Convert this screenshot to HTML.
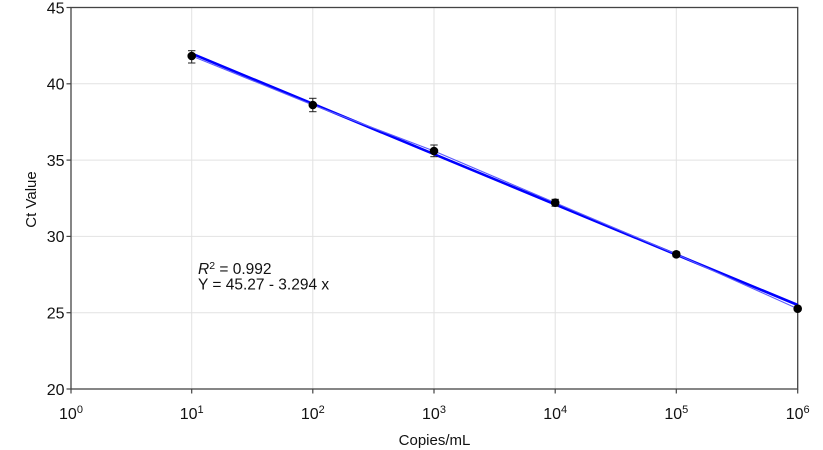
<!DOCTYPE html>
<html>
<head>
<meta charset="utf-8">
<style>
  html, body { margin: 0; padding: 0; background: #fff; }
  svg { display: block; }
  text { font-family: "Liberation Sans", Arial, sans-serif; fill: #111; }
</style>
</head>
<body>
<svg width="823" height="450" viewBox="0 0 823 450" xmlns="http://www.w3.org/2000/svg">
  <rect x="0" y="0" width="823" height="450" fill="#fff"/>
  <!-- grid -->
  <g stroke="#e2e2e2" stroke-width="1">
    <line x1="191.7" y1="7.5" x2="191.7" y2="389"/>
    <line x1="312.8" y1="7.5" x2="312.8" y2="389"/>
    <line x1="434" y1="7.5" x2="434" y2="389"/>
    <line x1="555.2" y1="7.5" x2="555.2" y2="389"/>
    <line x1="676.3" y1="7.5" x2="676.3" y2="389"/>
    <line x1="71" y1="83.8" x2="797.7" y2="83.8"/>
    <line x1="71" y1="160.1" x2="797.7" y2="160.1"/>
    <line x1="71" y1="236.4" x2="797.7" y2="236.4"/>
    <line x1="71" y1="312.7" x2="797.7" y2="312.7"/>
  </g>
  <!-- frame -->
  <rect x="71" y="7.5" width="726.7" height="381.5" fill="none" stroke="#444" stroke-width="1.3"/>
  <!-- ticks -->
  <g stroke="#444" stroke-width="1.2">
    <line x1="66.5" y1="7.5" x2="71" y2="7.5"/>
    <line x1="66.5" y1="83.8" x2="71" y2="83.8"/>
    <line x1="66.5" y1="160.1" x2="71" y2="160.1"/>
    <line x1="66.5" y1="236.4" x2="71" y2="236.4"/>
    <line x1="66.5" y1="312.7" x2="71" y2="312.7"/>
    <line x1="66.5" y1="389" x2="71" y2="389"/>
    <line x1="71" y1="389" x2="71" y2="393.5"/>
    <line x1="191.7" y1="389" x2="191.7" y2="393.5"/>
    <line x1="312.8" y1="389" x2="312.8" y2="393.5"/>
    <line x1="434" y1="389" x2="434" y2="393.5"/>
    <line x1="555.2" y1="389" x2="555.2" y2="393.5"/>
    <line x1="676.3" y1="389" x2="676.3" y2="393.5"/>
    <line x1="797.7" y1="389" x2="797.7" y2="393.5"/>
  </g>
  <!-- y labels -->
  <g font-size="16" text-anchor="end">
    <text x="64.5" y="13.3">45</text>
    <text x="64.5" y="89.6">40</text>
    <text x="64.5" y="165.9">35</text>
    <text x="64.5" y="242.2">30</text>
    <text x="64.5" y="318.5">25</text>
    <text x="64.5" y="394.8">20</text>
  </g>
  <!-- x labels -->
  <g font-size="16" text-anchor="middle">
    <text x="71" y="419">10<tspan font-size="11" dy="-6">0</tspan></text>
    <text x="191.7" y="419">10<tspan font-size="11" dy="-6">1</tspan></text>
    <text x="312.8" y="419">10<tspan font-size="11" dy="-6">2</tspan></text>
    <text x="434" y="419">10<tspan font-size="11" dy="-6">3</tspan></text>
    <text x="555.2" y="419">10<tspan font-size="11" dy="-6">4</tspan></text>
    <text x="676.3" y="419">10<tspan font-size="11" dy="-6">5</tspan></text>
    <text x="797.7" y="419">10<tspan font-size="11" dy="-6">6</tspan></text>
  </g>
  <!-- axis titles -->
  <text x="434.5" y="445" font-size="15" text-anchor="middle">Copies/mL</text>
  <text x="0" y="0" font-size="15" text-anchor="middle" transform="translate(36,199.5) rotate(-90)">Ct Value</text>
  <!-- regression line -->
  <line x1="191.7" y1="53.6" x2="797.7" y2="305" stroke="#0000ff" stroke-width="2.6"/>
  <!-- thin connecting line -->
  <polyline points="191.7,56 312.8,105 434,151 555.2,202.7 676.3,254.3 797.7,308.7" fill="none" stroke="#5a5aff" stroke-width="1.1"/>
  <!-- error bars -->
  <g stroke="#222" stroke-width="1">
    <line x1="191.7" y1="50.7" x2="191.7" y2="63"/>
    <line x1="188" y1="50.7" x2="195.4" y2="50.7"/>
    <line x1="188" y1="63" x2="195.4" y2="63"/>
    <line x1="312.8" y1="98.3" x2="312.8" y2="111.7"/>
    <line x1="309.1" y1="98.3" x2="316.5" y2="98.3"/>
    <line x1="309.1" y1="111.7" x2="316.5" y2="111.7"/>
    <line x1="434" y1="145" x2="434" y2="156.7"/>
    <line x1="430.3" y1="145" x2="437.7" y2="145"/>
    <line x1="430.3" y1="156.7" x2="437.7" y2="156.7"/>
    <line x1="555.2" y1="199.3" x2="555.2" y2="206.2"/>
    <line x1="551.5" y1="199.3" x2="558.9" y2="199.3"/>
    <line x1="551.5" y1="206.2" x2="558.9" y2="206.2"/>
    <line x1="676.3" y1="252" x2="676.3" y2="256.7"/>
    <line x1="672.6" y1="252" x2="680" y2="252"/>
    <line x1="672.6" y1="256.7" x2="680" y2="256.7"/>
  </g>
  <!-- points -->
  <g fill="#000">
    <circle cx="191.7" cy="56" r="4.3"/>
    <circle cx="312.8" cy="105" r="4.3"/>
    <circle cx="434" cy="151" r="4.3"/>
    <circle cx="555.2" cy="202.7" r="4.3"/>
    <circle cx="676.3" cy="254.3" r="4.3"/>
    <circle cx="797.7" cy="308.7" r="4.3"/>
  </g>
  <!-- annotation -->
  <text x="198" y="274" font-size="15.5"><tspan font-style="italic">R</tspan><tspan font-size="10.5" dy="-5">2</tspan><tspan dy="5"> = 0.992</tspan></text>
  <text x="198" y="289.3" font-size="15.5">Y = 45.27 - 3.294 x</text>
</svg>
</body>
</html>
